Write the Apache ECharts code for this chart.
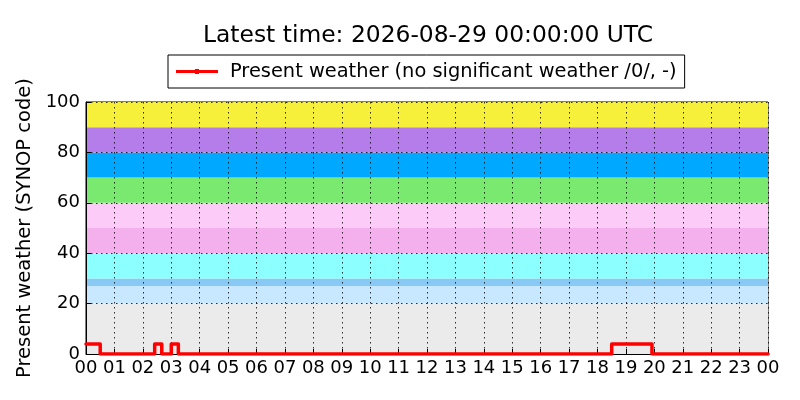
<!DOCTYPE html>
<html>
<head>
<meta charset="utf-8">
<script src="https://cdn.jsdelivr.net/npm/echarts@6/dist/echarts.min.js"></script>
<style>
  html, body { margin: 0; padding: 0; background: #fff; }
  #chart { width: 800px; height: 400px; }
</style>
</head>
<body>
<div id="chart"></div>
<script>
// change points of present weather (step held until next time)
var changeTimes = ['00:00', '00:30', '02:25', '02:40', '03:00', '03:15', '18:30', '19:55', '24:00'];
var weatherCodes = [4, 0, 4, 0, 4, 0, 4, 0, 0];

// SYNOP code bands
var bandLow = [0, 20, 27, 30, 40, 50, 60, 70, 80, 90];
var bandHigh = [20, 27, 30, 40, 50, 60, 70, 80, 90, 100];
var bandColors = ['#ebebeb', '#c8e8ff', '#88c9f5', '#8cffff', '#f4b0ec',
                  '#fdcbf8', '#7ae96f', '#00a9ff', '#b47de9', '#f7f03a'];

var yTicks = [0, 20, 40, 60, 80, 100];

var toHours = function(t) {
  var p = t.split(':');
  return parseInt(p[0], 10) + parseInt(p[1], 10) / 60;
};
var pad = function(n) {
  n = n % 24;
  return (n < 10 ? '0' : '') + n;
};

var lineData = changeTimes.map(function(t, i) {
  return [toHours(t), weatherCodes[i]];
});
var bands = bandLow.map(function(lo, i) {
  return [{ yAxis: lo, itemStyle: { color: bandColors[i] } }, { yAxis: bandHigh[i] }];
});

// legend icon: thin line with a small marker in the middle (+ tiny dot at the end for spacing)
var legendIcon = 'path://M0,1L19,1L19,0L23,0L23,1L42,1L42,4L23,4L23,5L19,5L19,4L0,4Z' +
  'M48.9,2.5L49,2.5L49,2.6Z';

var font = 'DejaVu Sans';
var chart = echarts.init(document.getElementById('chart'));
chart.setOption({
  animation: false,
  title: {
    text: 'Latest time: 2026-08-29 00:00:00 UTC',
    left: 198,
    top: 19,
    textStyle: { fontFamily: font, fontSize: 23.4, fontWeight: 'normal', color: '#000' }
  },
  legend: {
    data: [{ name: 'Present weather (no significant weather /0/, -)', icon: legendIcon }],
    top: 55,
    left: 168,
    borderColor: '#000',
    borderWidth: 1,
    padding: [7, 8, 7, 8],
    itemWidth: 49,
    itemHeight: 5,
    itemGap: 10,
    textStyle: { fontFamily: font, fontSize: 19.4, color: '#000' }
  },
  grid: {
    left: 86, right: 32, top: 102, bottom: 46,
    show: true, borderColor: '#000', borderWidth: 1, backgroundColor: 'transparent'
  },
  xAxis: {
    type: 'value',
    min: 0, max: 24, interval: 1,
    z: 5,
    axisLine: { show: true, lineStyle: { color: '#000', width: 1 } },
    axisTick: { show: true, inside: true, length: 5, lineStyle: { color: '#000' } },
    axisLabel: {
      fontFamily: font, fontSize: 18, color: '#000', margin: 5,
      showMinLabel: true, showMaxLabel: true, hideOverlap: false,
      formatter: function(v) { return pad(v); }
    },
    splitLine: { show: true, lineStyle: { color: '#000', width: 1, type: [1.5, 3.5], opacity: 0.8 } }
  },
  yAxis: {
    type: 'value',
    min: yTicks[0], max: yTicks[yTicks.length - 1], interval: 20,
    z: 5,
    name: 'Present weather (SYNOP code)',
    nameLocation: 'middle',
    nameGap: 40,
    nameTextStyle: { fontFamily: font, fontSize: 19.5, color: '#000' },
    axisLine: { show: true, lineStyle: { color: '#000', width: 1 } },
    axisTick: { show: true, inside: true, length: 5, lineStyle: { color: '#000' } },
    axisLabel: { fontFamily: font, fontSize: 18, color: '#000', margin: 6 },
    splitLine: { show: true, lineStyle: { color: '#000', width: 1, type: [1.5, 3.5], opacity: 0.8 } }
  },
  series: [
    {
      name: 'bands',
      type: 'line',
      data: [],
      z: 1,
      silent: true,
      markArea: { silent: true, data: bands }
    },
    {
      name: 'Present weather (no significant weather /0/, -)',
      type: 'line',
      step: 'end',
      z: 6,
      data: lineData,
      symbol: 'circle',
      symbolSize: 4,
      showSymbol: false,
      itemStyle: { color: '#ff0000' },
      lineStyle: { color: '#ff0000', width: 3.5, cap: 'round', join: 'round' }
    }
  ]
});
</script>
</body>
</html>
